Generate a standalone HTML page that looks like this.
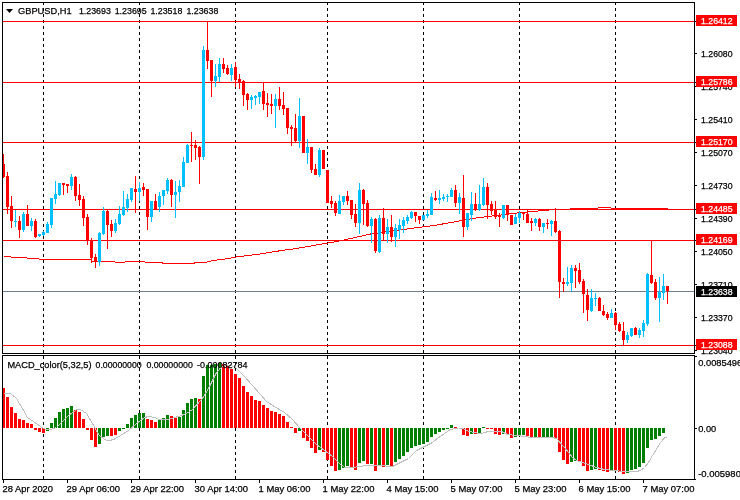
<!DOCTYPE html>
<html lang="en"><head><meta charset="utf-8"><title>GBPUSD,H1</title>
<style>html,body{margin:0;padding:0;background:#fff;overflow:hidden}svg{display:block}text{font-family:"Liberation Sans",sans-serif;font-size:9.7px;fill:#000;stroke:#000;stroke-width:0.25px}.w{fill:#fff;stroke:#fff}</style></head><body>
<svg width="740" height="500" viewBox="0 0 740 500">
<rect width="740" height="500" fill="#fff"/>
<g shape-rendering="crispEdges">
<line x1="43.5" y1="2" x2="43.5" y2="353" stroke="#000" stroke-width="1" stroke-dasharray="3 3"/>
<line x1="43.5" y1="356" x2="43.5" y2="479" stroke="#000" stroke-width="1" stroke-dasharray="3 3"/>
<line x1="139.5" y1="2" x2="139.5" y2="353" stroke="#000" stroke-width="1" stroke-dasharray="3 3"/>
<line x1="139.5" y1="356" x2="139.5" y2="479" stroke="#000" stroke-width="1" stroke-dasharray="3 3"/>
<line x1="235.5" y1="2" x2="235.5" y2="353" stroke="#000" stroke-width="1" stroke-dasharray="3 3"/>
<line x1="235.5" y1="356" x2="235.5" y2="479" stroke="#000" stroke-width="1" stroke-dasharray="3 3"/>
<line x1="327.5" y1="2" x2="327.5" y2="353" stroke="#000" stroke-width="1" stroke-dasharray="3 3"/>
<line x1="327.5" y1="356" x2="327.5" y2="479" stroke="#000" stroke-width="1" stroke-dasharray="3 3"/>
<line x1="423.5" y1="2" x2="423.5" y2="353" stroke="#000" stroke-width="1" stroke-dasharray="3 3"/>
<line x1="423.5" y1="356" x2="423.5" y2="479" stroke="#000" stroke-width="1" stroke-dasharray="3 3"/>
<line x1="519.5" y1="2" x2="519.5" y2="353" stroke="#000" stroke-width="1" stroke-dasharray="3 3"/>
<line x1="519.5" y1="356" x2="519.5" y2="479" stroke="#000" stroke-width="1" stroke-dasharray="3 3"/>
<line x1="615.5" y1="2" x2="615.5" y2="353" stroke="#000" stroke-width="1" stroke-dasharray="3 3"/>
<line x1="615.5" y1="356" x2="615.5" y2="479" stroke="#000" stroke-width="1" stroke-dasharray="3 3"/>
<rect x="3" y="21" width="692" height="1" fill="#ff0000"/>
<rect x="3" y="82" width="692" height="1" fill="#ff0000"/>
<rect x="3" y="142" width="692" height="1" fill="#ff0000"/>
<rect x="3" y="209" width="692" height="1" fill="#ff0000"/>
<rect x="3" y="240" width="692" height="1" fill="#ff0000"/>
<rect x="3" y="345" width="692" height="1" fill="#ff0000"/>
<rect x="3" y="291" width="692" height="1" fill="#708090"/>
</g>
<polyline fill="none" stroke="#ff0000" stroke-width="1" shape-rendering="crispEdges" points="3.5,256.5 10.5,256.5 11.5,257.5 26.5,257.5 27.5,258.5 38.5,258.5 39.5,259.5 68.5,259.5 69.5,259.1 78.5,259.1 79.5,259.5 90.5,259.5 91.5,261.0 114.5,261.5 115.5,262.5 124.5,262.5 125.5,261.9 144.5,261.9 145.5,262.5 162.5,262.9 163.5,263.9 193.5,263.9 194.5,262.9 204.5,262.9 208.5,261.5 216.5,260.1 228.5,258.5 235.5,257.1 248.5,255.5 260.5,253.9 272.5,251.9 284.5,250.1 296.5,248.5 340.5,240.8 370.5,234.0 401.5,229.7 424.5,226.7 436.5,225.1 476.5,217.9 496.5,215.5 516.5,213.1 536.5,211.1 548.5,210.5 549.5,209.5 569.5,209.5 570.5,208.5 597.5,208.5 598.5,207.5 610.5,207.5 611.5,208.5 667.5,208.5"/>
<g shape-rendering="crispEdges">
<rect x="3" y="154" width="1" height="24" fill="#ff0000"/>
<rect x="2" y="164" width="3" height="13" fill="#ff0000"/>
<rect x="7" y="172" width="1" height="42" fill="#ff0000"/>
<rect x="6" y="176" width="3" height="31" fill="#ff0000"/>
<rect x="11" y="196" width="1" height="32" fill="#ff0000"/>
<rect x="10" y="206" width="3" height="15" fill="#ff0000"/>
<rect x="15" y="210" width="1" height="17" fill="#00bfff"/>
<rect x="14" y="221" width="3" height="1" fill="#00bfff"/>
<rect x="19" y="216" width="1" height="22" fill="#ff0000"/>
<rect x="18" y="221" width="3" height="9" fill="#ff0000"/>
<rect x="23" y="212" width="1" height="20" fill="#00bfff"/>
<rect x="22" y="214" width="3" height="16" fill="#00bfff"/>
<rect x="27" y="205" width="1" height="21" fill="#ff0000"/>
<rect x="26" y="214" width="3" height="12" fill="#ff0000"/>
<rect x="31" y="218" width="1" height="13" fill="#00bfff"/>
<rect x="30" y="221" width="3" height="5" fill="#00bfff"/>
<rect x="35" y="219" width="1" height="19" fill="#ff0000"/>
<rect x="34" y="221" width="3" height="16" fill="#ff0000"/>
<rect x="39" y="234" width="1" height="3" fill="#00bfff"/>
<rect x="38" y="234" width="3" height="2" fill="#00bfff"/>
<rect x="43" y="231" width="1" height="5" fill="#00bfff"/>
<rect x="42" y="232" width="3" height="3" fill="#00bfff"/>
<rect x="47" y="222" width="1" height="11" fill="#00bfff"/>
<rect x="46" y="224" width="3" height="9" fill="#00bfff"/>
<rect x="51" y="198" width="1" height="30" fill="#00bfff"/>
<rect x="50" y="198" width="3" height="27" fill="#00bfff"/>
<rect x="55" y="181" width="1" height="23" fill="#00bfff"/>
<rect x="54" y="194" width="3" height="5" fill="#00bfff"/>
<rect x="59" y="183" width="1" height="13" fill="#00bfff"/>
<rect x="58" y="183" width="3" height="12" fill="#00bfff"/>
<rect x="63" y="183" width="1" height="12" fill="#ff0000"/>
<rect x="62" y="183" width="3" height="2" fill="#ff0000"/>
<rect x="67" y="184" width="1" height="9" fill="#ff0000"/>
<rect x="66" y="184" width="3" height="2" fill="#ff0000"/>
<rect x="71" y="174" width="1" height="16" fill="#00bfff"/>
<rect x="70" y="177" width="3" height="9" fill="#00bfff"/>
<rect x="75" y="176" width="1" height="25" fill="#ff0000"/>
<rect x="74" y="177" width="3" height="19" fill="#ff0000"/>
<rect x="79" y="184" width="1" height="22" fill="#ff0000"/>
<rect x="78" y="195" width="3" height="5" fill="#ff0000"/>
<rect x="83" y="196" width="1" height="30" fill="#ff0000"/>
<rect x="82" y="199" width="3" height="19" fill="#ff0000"/>
<rect x="87" y="214" width="1" height="31" fill="#ff0000"/>
<rect x="86" y="217" width="3" height="23" fill="#ff0000"/>
<rect x="91" y="238" width="1" height="25" fill="#ff0000"/>
<rect x="90" y="240" width="3" height="18" fill="#ff0000"/>
<rect x="95" y="254" width="1" height="14" fill="#ff0000"/>
<rect x="94" y="257" width="3" height="5" fill="#ff0000"/>
<rect x="99" y="232" width="1" height="34" fill="#00bfff"/>
<rect x="98" y="233" width="3" height="29" fill="#00bfff"/>
<rect x="103" y="207" width="1" height="28" fill="#00bfff"/>
<rect x="102" y="211" width="3" height="23" fill="#00bfff"/>
<rect x="107" y="210" width="1" height="39" fill="#ff0000"/>
<rect x="106" y="211" width="3" height="14" fill="#ff0000"/>
<rect x="111" y="220" width="1" height="17" fill="#ff0000"/>
<rect x="110" y="224" width="3" height="7" fill="#ff0000"/>
<rect x="115" y="219" width="1" height="14" fill="#00bfff"/>
<rect x="114" y="223" width="3" height="8" fill="#00bfff"/>
<rect x="119" y="206" width="1" height="19" fill="#00bfff"/>
<rect x="118" y="214" width="3" height="10" fill="#00bfff"/>
<rect x="123" y="191" width="1" height="25" fill="#00bfff"/>
<rect x="122" y="207" width="3" height="8" fill="#00bfff"/>
<rect x="127" y="194" width="1" height="18" fill="#00bfff"/>
<rect x="126" y="199" width="3" height="9" fill="#00bfff"/>
<rect x="131" y="188" width="1" height="14" fill="#00bfff"/>
<rect x="130" y="188" width="3" height="12" fill="#00bfff"/>
<rect x="135" y="176" width="1" height="37" fill="#ff0000"/>
<rect x="134" y="189" width="3" height="3" fill="#ff0000"/>
<rect x="139" y="182" width="1" height="19" fill="#00bfff"/>
<rect x="138" y="188" width="3" height="4" fill="#00bfff"/>
<rect x="143" y="183" width="1" height="13" fill="#ff0000"/>
<rect x="142" y="187" width="3" height="3" fill="#ff0000"/>
<rect x="147" y="189" width="1" height="41" fill="#ff0000"/>
<rect x="146" y="189" width="3" height="28" fill="#ff0000"/>
<rect x="151" y="201" width="1" height="21" fill="#00bfff"/>
<rect x="150" y="201" width="3" height="16" fill="#00bfff"/>
<rect x="155" y="194" width="1" height="16" fill="#ff0000"/>
<rect x="154" y="201" width="3" height="9" fill="#ff0000"/>
<rect x="159" y="192" width="1" height="20" fill="#00bfff"/>
<rect x="158" y="196" width="3" height="11" fill="#00bfff"/>
<rect x="163" y="190" width="1" height="15" fill="#00bfff"/>
<rect x="162" y="190" width="3" height="6" fill="#00bfff"/>
<rect x="167" y="178" width="1" height="16" fill="#00bfff"/>
<rect x="166" y="180" width="3" height="11" fill="#00bfff"/>
<rect x="171" y="179" width="1" height="28" fill="#ff0000"/>
<rect x="170" y="180" width="3" height="15" fill="#ff0000"/>
<rect x="175" y="181" width="1" height="37" fill="#00bfff"/>
<rect x="174" y="192" width="3" height="3" fill="#00bfff"/>
<rect x="179" y="180" width="1" height="22" fill="#00bfff"/>
<rect x="178" y="186" width="3" height="6" fill="#00bfff"/>
<rect x="183" y="157" width="1" height="30" fill="#00bfff"/>
<rect x="182" y="162" width="3" height="25" fill="#00bfff"/>
<rect x="187" y="144" width="1" height="19" fill="#00bfff"/>
<rect x="186" y="145" width="3" height="18" fill="#00bfff"/>
<rect x="191" y="132" width="1" height="30" fill="#ff0000"/>
<rect x="190" y="145" width="3" height="1" fill="#ff0000"/>
<rect x="195" y="140" width="1" height="20" fill="#ff0000"/>
<rect x="194" y="145" width="3" height="3" fill="#ff0000"/>
<rect x="199" y="146" width="1" height="38" fill="#ff0000"/>
<rect x="198" y="147" width="3" height="10" fill="#ff0000"/>
<rect x="203" y="46" width="1" height="114" fill="#00bfff"/>
<rect x="202" y="50" width="3" height="107" fill="#00bfff"/>
<rect x="207" y="21" width="1" height="48" fill="#ff0000"/>
<rect x="206" y="50" width="3" height="11" fill="#ff0000"/>
<rect x="211" y="60" width="1" height="37" fill="#ff0000"/>
<rect x="210" y="60" width="3" height="21" fill="#ff0000"/>
<rect x="215" y="64" width="1" height="23" fill="#00bfff"/>
<rect x="214" y="76" width="3" height="5" fill="#00bfff"/>
<rect x="219" y="58" width="1" height="24" fill="#00bfff"/>
<rect x="218" y="64" width="3" height="13" fill="#00bfff"/>
<rect x="223" y="58" width="1" height="15" fill="#ff0000"/>
<rect x="222" y="64" width="3" height="5" fill="#ff0000"/>
<rect x="227" y="65" width="1" height="10" fill="#ff0000"/>
<rect x="226" y="68" width="3" height="6" fill="#ff0000"/>
<rect x="231" y="64" width="1" height="17" fill="#00bfff"/>
<rect x="230" y="68" width="3" height="7" fill="#00bfff"/>
<rect x="235" y="62" width="1" height="25" fill="#ff0000"/>
<rect x="234" y="67" width="3" height="13" fill="#ff0000"/>
<rect x="239" y="74" width="1" height="15" fill="#ff0000"/>
<rect x="238" y="79" width="3" height="3" fill="#ff0000"/>
<rect x="243" y="80" width="1" height="26" fill="#ff0000"/>
<rect x="242" y="81" width="3" height="14" fill="#ff0000"/>
<rect x="247" y="93" width="1" height="17" fill="#ff0000"/>
<rect x="246" y="94" width="3" height="6" fill="#ff0000"/>
<rect x="251" y="95" width="1" height="14" fill="#00bfff"/>
<rect x="250" y="97" width="3" height="3" fill="#00bfff"/>
<rect x="255" y="95" width="1" height="10" fill="#00bfff"/>
<rect x="254" y="96" width="3" height="2" fill="#00bfff"/>
<rect x="259" y="92" width="1" height="12" fill="#00bfff"/>
<rect x="258" y="92" width="3" height="5" fill="#00bfff"/>
<rect x="263" y="83" width="1" height="27" fill="#ff0000"/>
<rect x="262" y="91" width="3" height="13" fill="#ff0000"/>
<rect x="267" y="93" width="1" height="24" fill="#ff0000"/>
<rect x="266" y="103" width="3" height="2" fill="#ff0000"/>
<rect x="271" y="94" width="1" height="20" fill="#ff0000"/>
<rect x="270" y="104" width="3" height="2" fill="#ff0000"/>
<rect x="275" y="94" width="1" height="34" fill="#00bfff"/>
<rect x="274" y="99" width="3" height="7" fill="#00bfff"/>
<rect x="279" y="87" width="1" height="23" fill="#ff0000"/>
<rect x="278" y="99" width="3" height="7" fill="#ff0000"/>
<rect x="283" y="92" width="1" height="23" fill="#ff0000"/>
<rect x="282" y="105" width="3" height="4" fill="#ff0000"/>
<rect x="287" y="108" width="1" height="26" fill="#ff0000"/>
<rect x="286" y="108" width="3" height="20" fill="#ff0000"/>
<rect x="291" y="125" width="1" height="21" fill="#ff0000"/>
<rect x="290" y="127" width="3" height="2" fill="#ff0000"/>
<rect x="295" y="114" width="1" height="29" fill="#ff0000"/>
<rect x="294" y="128" width="3" height="13" fill="#ff0000"/>
<rect x="299" y="98" width="1" height="50" fill="#00bfff"/>
<rect x="298" y="116" width="3" height="25" fill="#00bfff"/>
<rect x="303" y="116" width="1" height="37" fill="#ff0000"/>
<rect x="302" y="116" width="3" height="37" fill="#ff0000"/>
<rect x="307" y="139" width="1" height="25" fill="#00bfff"/>
<rect x="306" y="147" width="3" height="6" fill="#00bfff"/>
<rect x="311" y="147" width="1" height="26" fill="#ff0000"/>
<rect x="310" y="147" width="3" height="23" fill="#ff0000"/>
<rect x="315" y="164" width="1" height="11" fill="#ff0000"/>
<rect x="314" y="169" width="3" height="6" fill="#ff0000"/>
<rect x="319" y="148" width="1" height="29" fill="#00bfff"/>
<rect x="318" y="150" width="3" height="25" fill="#00bfff"/>
<rect x="323" y="150" width="1" height="19" fill="#ff0000"/>
<rect x="322" y="150" width="3" height="19" fill="#ff0000"/>
<rect x="327" y="170" width="1" height="33" fill="#ff0000"/>
<rect x="326" y="170" width="3" height="33" fill="#ff0000"/>
<rect x="331" y="196" width="1" height="12" fill="#ff0000"/>
<rect x="330" y="201" width="3" height="3" fill="#ff0000"/>
<rect x="335" y="201" width="1" height="15" fill="#ff0000"/>
<rect x="334" y="203" width="3" height="10" fill="#ff0000"/>
<rect x="339" y="195" width="1" height="19" fill="#00bfff"/>
<rect x="338" y="201" width="3" height="13" fill="#00bfff"/>
<rect x="343" y="196" width="1" height="9" fill="#00bfff"/>
<rect x="342" y="196" width="3" height="6" fill="#00bfff"/>
<rect x="347" y="191" width="1" height="14" fill="#ff0000"/>
<rect x="346" y="196" width="3" height="5" fill="#ff0000"/>
<rect x="351" y="200" width="1" height="19" fill="#ff0000"/>
<rect x="350" y="200" width="3" height="15" fill="#ff0000"/>
<rect x="355" y="204" width="1" height="23" fill="#ff0000"/>
<rect x="354" y="214" width="3" height="9" fill="#ff0000"/>
<rect x="359" y="183" width="1" height="51" fill="#00bfff"/>
<rect x="358" y="190" width="3" height="33" fill="#00bfff"/>
<rect x="363" y="189" width="1" height="36" fill="#ff0000"/>
<rect x="362" y="190" width="3" height="14" fill="#ff0000"/>
<rect x="367" y="200" width="1" height="27" fill="#ff0000"/>
<rect x="366" y="203" width="3" height="23" fill="#ff0000"/>
<rect x="371" y="217" width="1" height="26" fill="#00bfff"/>
<rect x="370" y="219" width="3" height="7" fill="#00bfff"/>
<rect x="375" y="218" width="1" height="35" fill="#ff0000"/>
<rect x="374" y="219" width="3" height="32" fill="#ff0000"/>
<rect x="379" y="215" width="1" height="38" fill="#00bfff"/>
<rect x="378" y="218" width="3" height="34" fill="#00bfff"/>
<rect x="383" y="208" width="1" height="32" fill="#ff0000"/>
<rect x="382" y="218" width="3" height="16" fill="#ff0000"/>
<rect x="387" y="219" width="1" height="24" fill="#00bfff"/>
<rect x="386" y="227" width="3" height="7" fill="#00bfff"/>
<rect x="391" y="215" width="1" height="27" fill="#ff0000"/>
<rect x="390" y="227" width="3" height="10" fill="#ff0000"/>
<rect x="395" y="224" width="1" height="23" fill="#00bfff"/>
<rect x="394" y="228" width="3" height="9" fill="#00bfff"/>
<rect x="399" y="219" width="1" height="20" fill="#00bfff"/>
<rect x="398" y="225" width="3" height="5" fill="#00bfff"/>
<rect x="403" y="217" width="1" height="16" fill="#00bfff"/>
<rect x="402" y="220" width="3" height="6" fill="#00bfff"/>
<rect x="407" y="215" width="1" height="9" fill="#00bfff"/>
<rect x="406" y="217" width="3" height="4" fill="#00bfff"/>
<rect x="411" y="211" width="1" height="8" fill="#00bfff"/>
<rect x="410" y="212" width="3" height="6" fill="#00bfff"/>
<rect x="415" y="212" width="1" height="10" fill="#ff0000"/>
<rect x="414" y="212" width="3" height="4" fill="#ff0000"/>
<rect x="419" y="216" width="1" height="8" fill="#ff0000"/>
<rect x="418" y="216" width="3" height="4" fill="#ff0000"/>
<rect x="423" y="215" width="1" height="5" fill="#00bfff"/>
<rect x="422" y="215" width="3" height="5" fill="#00bfff"/>
<rect x="427" y="210" width="1" height="8" fill="#00bfff"/>
<rect x="426" y="214" width="3" height="2" fill="#00bfff"/>
<rect x="431" y="193" width="1" height="22" fill="#00bfff"/>
<rect x="430" y="197" width="3" height="18" fill="#00bfff"/>
<rect x="435" y="191" width="1" height="10" fill="#ff0000"/>
<rect x="434" y="198" width="3" height="2" fill="#ff0000"/>
<rect x="439" y="190" width="1" height="14" fill="#00bfff"/>
<rect x="438" y="198" width="3" height="2" fill="#00bfff"/>
<rect x="443" y="194" width="1" height="7" fill="#00bfff"/>
<rect x="442" y="197" width="3" height="2" fill="#00bfff"/>
<rect x="447" y="194" width="1" height="8" fill="#00bfff"/>
<rect x="446" y="196" width="3" height="1" fill="#00bfff"/>
<rect x="451" y="188" width="1" height="9" fill="#00bfff"/>
<rect x="450" y="190" width="3" height="7" fill="#00bfff"/>
<rect x="455" y="185" width="1" height="22" fill="#ff0000"/>
<rect x="454" y="190" width="3" height="13" fill="#ff0000"/>
<rect x="459" y="193" width="1" height="21" fill="#00bfff"/>
<rect x="458" y="197" width="3" height="6" fill="#00bfff"/>
<rect x="463" y="175" width="1" height="62" fill="#ff0000"/>
<rect x="462" y="198" width="3" height="29" fill="#ff0000"/>
<rect x="467" y="213" width="1" height="17" fill="#00bfff"/>
<rect x="466" y="213" width="3" height="14" fill="#00bfff"/>
<rect x="471" y="192" width="1" height="29" fill="#00bfff"/>
<rect x="470" y="204" width="3" height="11" fill="#00bfff"/>
<rect x="475" y="193" width="1" height="18" fill="#ff0000"/>
<rect x="474" y="204" width="3" height="5" fill="#ff0000"/>
<rect x="479" y="185" width="1" height="26" fill="#00bfff"/>
<rect x="478" y="204" width="3" height="6" fill="#00bfff"/>
<rect x="483" y="178" width="1" height="28" fill="#00bfff"/>
<rect x="482" y="187" width="3" height="18" fill="#00bfff"/>
<rect x="487" y="183" width="1" height="36" fill="#ff0000"/>
<rect x="486" y="187" width="3" height="18" fill="#ff0000"/>
<rect x="491" y="201" width="1" height="14" fill="#ff0000"/>
<rect x="490" y="204" width="3" height="7" fill="#ff0000"/>
<rect x="495" y="201" width="1" height="18" fill="#ff0000"/>
<rect x="494" y="209" width="3" height="8" fill="#ff0000"/>
<rect x="499" y="213" width="1" height="14" fill="#ff0000"/>
<rect x="498" y="215" width="3" height="2" fill="#ff0000"/>
<rect x="503" y="205" width="1" height="14" fill="#00bfff"/>
<rect x="502" y="205" width="3" height="13" fill="#00bfff"/>
<rect x="507" y="205" width="1" height="16" fill="#ff0000"/>
<rect x="506" y="205" width="3" height="10" fill="#ff0000"/>
<rect x="511" y="215" width="1" height="10" fill="#ff0000"/>
<rect x="510" y="215" width="3" height="10" fill="#ff0000"/>
<rect x="515" y="214" width="1" height="10" fill="#00bfff"/>
<rect x="514" y="217" width="3" height="7" fill="#00bfff"/>
<rect x="519" y="211" width="1" height="12" fill="#00bfff"/>
<rect x="518" y="213" width="3" height="5" fill="#00bfff"/>
<rect x="523" y="212" width="1" height="8" fill="#ff0000"/>
<rect x="522" y="213" width="3" height="1" fill="#ff0000"/>
<rect x="527" y="209" width="1" height="14" fill="#ff0000"/>
<rect x="526" y="214" width="3" height="9" fill="#ff0000"/>
<rect x="531" y="218" width="1" height="13" fill="#ff0000"/>
<rect x="530" y="221" width="3" height="2" fill="#ff0000"/>
<rect x="535" y="218" width="1" height="8" fill="#00bfff"/>
<rect x="534" y="219" width="3" height="4" fill="#00bfff"/>
<rect x="539" y="218" width="1" height="13" fill="#ff0000"/>
<rect x="538" y="219" width="3" height="8" fill="#ff0000"/>
<rect x="543" y="223" width="1" height="10" fill="#00bfff"/>
<rect x="542" y="223" width="3" height="4" fill="#00bfff"/>
<rect x="547" y="219" width="1" height="10" fill="#ff0000"/>
<rect x="546" y="223" width="3" height="1" fill="#ff0000"/>
<rect x="551" y="220" width="1" height="16" fill="#00bfff"/>
<rect x="550" y="221" width="3" height="3" fill="#00bfff"/>
<rect x="555" y="208" width="1" height="25" fill="#ff0000"/>
<rect x="554" y="221" width="3" height="11" fill="#ff0000"/>
<rect x="559" y="230" width="1" height="68" fill="#ff0000"/>
<rect x="558" y="231" width="3" height="51" fill="#ff0000"/>
<rect x="563" y="278" width="1" height="14" fill="#ff0000"/>
<rect x="562" y="282" width="3" height="2" fill="#ff0000"/>
<rect x="567" y="267" width="1" height="19" fill="#00bfff"/>
<rect x="566" y="282" width="3" height="2" fill="#00bfff"/>
<rect x="571" y="265" width="1" height="27" fill="#00bfff"/>
<rect x="570" y="268" width="3" height="15" fill="#00bfff"/>
<rect x="575" y="265" width="1" height="23" fill="#ff0000"/>
<rect x="574" y="268" width="3" height="3" fill="#ff0000"/>
<rect x="579" y="263" width="1" height="21" fill="#ff0000"/>
<rect x="578" y="270" width="3" height="12" fill="#ff0000"/>
<rect x="583" y="279" width="1" height="34" fill="#ff0000"/>
<rect x="582" y="281" width="3" height="13" fill="#ff0000"/>
<rect x="587" y="289" width="1" height="32" fill="#ff0000"/>
<rect x="586" y="295" width="3" height="15" fill="#ff0000"/>
<rect x="591" y="289" width="1" height="23" fill="#00bfff"/>
<rect x="590" y="298" width="3" height="13" fill="#00bfff"/>
<rect x="595" y="293" width="1" height="13" fill="#00bfff"/>
<rect x="594" y="298" width="3" height="1" fill="#00bfff"/>
<rect x="599" y="297" width="1" height="14" fill="#ff0000"/>
<rect x="598" y="298" width="3" height="13" fill="#ff0000"/>
<rect x="603" y="305" width="1" height="11" fill="#ff0000"/>
<rect x="602" y="311" width="3" height="4" fill="#ff0000"/>
<rect x="607" y="312" width="1" height="8" fill="#ff0000"/>
<rect x="606" y="314" width="3" height="4" fill="#ff0000"/>
<rect x="611" y="309" width="1" height="9" fill="#00bfff"/>
<rect x="610" y="313" width="3" height="5" fill="#00bfff"/>
<rect x="615" y="312" width="1" height="18" fill="#ff0000"/>
<rect x="614" y="313" width="3" height="12" fill="#ff0000"/>
<rect x="619" y="322" width="1" height="10" fill="#ff0000"/>
<rect x="618" y="324" width="3" height="7" fill="#ff0000"/>
<rect x="623" y="322" width="1" height="23" fill="#ff0000"/>
<rect x="622" y="331" width="3" height="9" fill="#ff0000"/>
<rect x="627" y="332" width="1" height="11" fill="#00bfff"/>
<rect x="626" y="335" width="3" height="5" fill="#00bfff"/>
<rect x="631" y="328" width="1" height="9" fill="#00bfff"/>
<rect x="630" y="328" width="3" height="8" fill="#00bfff"/>
<rect x="635" y="327" width="1" height="8" fill="#ff0000"/>
<rect x="634" y="328" width="3" height="7" fill="#ff0000"/>
<rect x="639" y="328" width="1" height="10" fill="#00bfff"/>
<rect x="638" y="330" width="3" height="5" fill="#00bfff"/>
<rect x="643" y="320" width="1" height="17" fill="#00bfff"/>
<rect x="642" y="323" width="3" height="8" fill="#00bfff"/>
<rect x="647" y="273" width="1" height="53" fill="#00bfff"/>
<rect x="646" y="274" width="3" height="50" fill="#00bfff"/>
<rect x="651" y="240" width="1" height="44" fill="#ff0000"/>
<rect x="650" y="275" width="3" height="8" fill="#ff0000"/>
<rect x="655" y="279" width="1" height="21" fill="#ff0000"/>
<rect x="654" y="282" width="3" height="16" fill="#ff0000"/>
<rect x="659" y="277" width="1" height="45" fill="#00bfff"/>
<rect x="658" y="292" width="3" height="6" fill="#00bfff"/>
<rect x="663" y="274" width="1" height="26" fill="#00bfff"/>
<rect x="662" y="286" width="3" height="7" fill="#00bfff"/>
<rect x="667" y="286" width="1" height="18" fill="#ff0000"/>
<rect x="666" y="286" width="3" height="5" fill="#ff0000"/>
<rect x="2" y="388" width="3" height="40" fill="#ff0000"/>
<rect x="6" y="397" width="3" height="31" fill="#ff0000"/>
<rect x="10" y="407" width="3" height="21" fill="#ff0000"/>
<rect x="14" y="413" width="3" height="15" fill="#ff0000"/>
<rect x="18" y="419" width="3" height="9" fill="#ff0000"/>
<rect x="22" y="420" width="3" height="8" fill="#ff0000"/>
<rect x="26" y="423" width="3" height="5" fill="#ff0000"/>
<rect x="30" y="424" width="3" height="4" fill="#ff0000"/>
<rect x="34" y="428" width="3" height="2" fill="#ff0000"/>
<rect x="38" y="428" width="3" height="4" fill="#ff0000"/>
<rect x="42" y="428" width="3" height="5" fill="#ff0000"/>
<rect x="46" y="428" width="3" height="3" fill="#008000"/>
<rect x="50" y="423" width="3" height="5" fill="#008000"/>
<rect x="54" y="418" width="3" height="10" fill="#008000"/>
<rect x="58" y="412" width="3" height="16" fill="#008000"/>
<rect x="62" y="409" width="3" height="19" fill="#008000"/>
<rect x="66" y="408" width="3" height="20" fill="#008000"/>
<rect x="70" y="406" width="3" height="22" fill="#008000"/>
<rect x="74" y="410" width="3" height="18" fill="#ff0000"/>
<rect x="78" y="412" width="3" height="16" fill="#ff0000"/>
<rect x="82" y="419" width="3" height="9" fill="#ff0000"/>
<rect x="86" y="428" width="3" height="2" fill="#ff0000"/>
<rect x="90" y="428" width="3" height="12" fill="#ff0000"/>
<rect x="94" y="428" width="3" height="19" fill="#ff0000"/>
<rect x="98" y="428" width="3" height="16" fill="#008000"/>
<rect x="102" y="428" width="3" height="9" fill="#008000"/>
<rect x="106" y="428" width="3" height="8" fill="#008000"/>
<rect x="110" y="428" width="3" height="8" fill="#ff0000"/>
<rect x="114" y="428" width="3" height="7" fill="#ff0000"/>
<rect x="118" y="428" width="3" height="3" fill="#008000"/>
<rect x="122" y="428" width="3" height="1" fill="#008000"/>
<rect x="126" y="424" width="3" height="4" fill="#008000"/>
<rect x="130" y="418" width="3" height="10" fill="#008000"/>
<rect x="134" y="415" width="3" height="13" fill="#008000"/>
<rect x="138" y="413" width="3" height="15" fill="#008000"/>
<rect x="142" y="413" width="3" height="15" fill="#008000"/>
<rect x="146" y="419" width="3" height="9" fill="#ff0000"/>
<rect x="150" y="420" width="3" height="8" fill="#ff0000"/>
<rect x="154" y="422" width="3" height="6" fill="#ff0000"/>
<rect x="158" y="420" width="3" height="8" fill="#008000"/>
<rect x="162" y="418" width="3" height="10" fill="#008000"/>
<rect x="166" y="415" width="3" height="13" fill="#008000"/>
<rect x="170" y="416" width="3" height="12" fill="#ff0000"/>
<rect x="174" y="418" width="3" height="10" fill="#ff0000"/>
<rect x="178" y="417" width="3" height="11" fill="#008000"/>
<rect x="182" y="410" width="3" height="18" fill="#008000"/>
<rect x="186" y="403" width="3" height="25" fill="#008000"/>
<rect x="190" y="399" width="3" height="29" fill="#008000"/>
<rect x="194" y="398" width="3" height="30" fill="#008000"/>
<rect x="198" y="399" width="3" height="29" fill="#ff0000"/>
<rect x="202" y="376" width="3" height="52" fill="#008000"/>
<rect x="206" y="365" width="3" height="63" fill="#008000"/>
<rect x="210" y="365" width="3" height="63" fill="#008000"/>
<rect x="214" y="364" width="3" height="64" fill="#008000"/>
<rect x="218" y="363" width="3" height="65" fill="#008000"/>
<rect x="222" y="364" width="3" height="64" fill="#ff0000"/>
<rect x="226" y="366" width="3" height="62" fill="#ff0000"/>
<rect x="230" y="369" width="3" height="59" fill="#ff0000"/>
<rect x="234" y="374" width="3" height="54" fill="#ff0000"/>
<rect x="238" y="378" width="3" height="50" fill="#ff0000"/>
<rect x="242" y="386" width="3" height="42" fill="#ff0000"/>
<rect x="246" y="392" width="3" height="36" fill="#ff0000"/>
<rect x="250" y="396" width="3" height="32" fill="#ff0000"/>
<rect x="254" y="400" width="3" height="28" fill="#ff0000"/>
<rect x="258" y="401" width="3" height="27" fill="#ff0000"/>
<rect x="262" y="405" width="3" height="23" fill="#ff0000"/>
<rect x="266" y="408" width="3" height="20" fill="#ff0000"/>
<rect x="270" y="411" width="3" height="17" fill="#ff0000"/>
<rect x="274" y="412" width="3" height="16" fill="#ff0000"/>
<rect x="278" y="414" width="3" height="14" fill="#ff0000"/>
<rect x="282" y="416" width="3" height="12" fill="#ff0000"/>
<rect x="286" y="422" width="3" height="6" fill="#ff0000"/>
<rect x="290" y="427" width="3" height="1" fill="#ff0000"/>
<rect x="294" y="428" width="3" height="5" fill="#ff0000"/>
<rect x="298" y="428" width="3" height="3" fill="#008000"/>
<rect x="302" y="428" width="3" height="10" fill="#ff0000"/>
<rect x="306" y="428" width="3" height="13" fill="#ff0000"/>
<rect x="310" y="428" width="3" height="20" fill="#ff0000"/>
<rect x="314" y="428" width="3" height="25" fill="#ff0000"/>
<rect x="318" y="428" width="3" height="22" fill="#008000"/>
<rect x="322" y="428" width="3" height="24" fill="#ff0000"/>
<rect x="326" y="428" width="3" height="32" fill="#ff0000"/>
<rect x="330" y="428" width="3" height="38" fill="#ff0000"/>
<rect x="334" y="428" width="3" height="43" fill="#ff0000"/>
<rect x="338" y="428" width="3" height="42" fill="#008000"/>
<rect x="342" y="428" width="3" height="40" fill="#008000"/>
<rect x="346" y="428" width="3" height="38" fill="#008000"/>
<rect x="350" y="428" width="3" height="39" fill="#ff0000"/>
<rect x="354" y="428" width="3" height="42" fill="#ff0000"/>
<rect x="358" y="428" width="3" height="35" fill="#008000"/>
<rect x="362" y="428" width="3" height="33" fill="#008000"/>
<rect x="366" y="428" width="3" height="36" fill="#ff0000"/>
<rect x="370" y="428" width="3" height="36" fill="#008000"/>
<rect x="374" y="428" width="3" height="43" fill="#ff0000"/>
<rect x="378" y="428" width="3" height="38" fill="#008000"/>
<rect x="382" y="428" width="3" height="39" fill="#ff0000"/>
<rect x="386" y="428" width="3" height="37" fill="#008000"/>
<rect x="390" y="428" width="3" height="38" fill="#ff0000"/>
<rect x="394" y="428" width="3" height="34" fill="#008000"/>
<rect x="398" y="428" width="3" height="31" fill="#008000"/>
<rect x="402" y="428" width="3" height="28" fill="#008000"/>
<rect x="406" y="428" width="3" height="24" fill="#008000"/>
<rect x="410" y="428" width="3" height="20" fill="#008000"/>
<rect x="414" y="428" width="3" height="18" fill="#008000"/>
<rect x="418" y="428" width="3" height="17" fill="#008000"/>
<rect x="422" y="428" width="3" height="16" fill="#008000"/>
<rect x="426" y="428" width="3" height="14" fill="#008000"/>
<rect x="430" y="428" width="3" height="9" fill="#008000"/>
<rect x="434" y="428" width="3" height="6" fill="#008000"/>
<rect x="438" y="428" width="3" height="4" fill="#008000"/>
<rect x="442" y="428" width="3" height="2" fill="#008000"/>
<rect x="446" y="428" width="3" height="1" fill="#008000"/>
<rect x="450" y="425" width="3" height="3" fill="#008000"/>
<rect x="454" y="427" width="3" height="1" fill="#ff0000"/>
<rect x="462" y="428" width="3" height="7" fill="#ff0000"/>
<rect x="466" y="428" width="3" height="8" fill="#ff0000"/>
<rect x="470" y="428" width="3" height="6" fill="#008000"/>
<rect x="474" y="428" width="3" height="6" fill="#ff0000"/>
<rect x="478" y="428" width="3" height="5" fill="#008000"/>
<rect x="482" y="427" width="3" height="1" fill="#008000"/>
<rect x="486" y="428" width="3" height="1" fill="#ff0000"/>
<rect x="490" y="428" width="3" height="1" fill="#ff0000"/>
<rect x="494" y="428" width="3" height="6" fill="#ff0000"/>
<rect x="498" y="428" width="3" height="7" fill="#ff0000"/>
<rect x="502" y="428" width="3" height="6" fill="#008000"/>
<rect x="506" y="428" width="3" height="7" fill="#ff0000"/>
<rect x="510" y="428" width="3" height="10" fill="#ff0000"/>
<rect x="514" y="428" width="3" height="9" fill="#008000"/>
<rect x="518" y="428" width="3" height="8" fill="#008000"/>
<rect x="522" y="428" width="3" height="7" fill="#008000"/>
<rect x="526" y="428" width="3" height="8" fill="#ff0000"/>
<rect x="530" y="428" width="3" height="10" fill="#ff0000"/>
<rect x="534" y="428" width="3" height="9" fill="#008000"/>
<rect x="538" y="428" width="3" height="10" fill="#ff0000"/>
<rect x="542" y="428" width="3" height="9" fill="#008000"/>
<rect x="546" y="428" width="3" height="9" fill="#008000"/>
<rect x="550" y="428" width="3" height="9" fill="#008000"/>
<rect x="554" y="428" width="3" height="11" fill="#ff0000"/>
<rect x="558" y="428" width="3" height="24" fill="#ff0000"/>
<rect x="562" y="428" width="3" height="32" fill="#ff0000"/>
<rect x="566" y="428" width="3" height="36" fill="#ff0000"/>
<rect x="570" y="428" width="3" height="34" fill="#008000"/>
<rect x="574" y="428" width="3" height="33" fill="#008000"/>
<rect x="578" y="428" width="3" height="33" fill="#ff0000"/>
<rect x="582" y="428" width="3" height="38" fill="#ff0000"/>
<rect x="586" y="428" width="3" height="43" fill="#ff0000"/>
<rect x="590" y="428" width="3" height="42" fill="#008000"/>
<rect x="594" y="428" width="3" height="41" fill="#008000"/>
<rect x="598" y="428" width="3" height="42" fill="#ff0000"/>
<rect x="602" y="428" width="3" height="43" fill="#ff0000"/>
<rect x="606" y="428" width="3" height="44" fill="#ff0000"/>
<rect x="610" y="428" width="3" height="42" fill="#008000"/>
<rect x="614" y="428" width="3" height="43" fill="#ff0000"/>
<rect x="618" y="428" width="3" height="44" fill="#ff0000"/>
<rect x="622" y="428" width="3" height="46" fill="#ff0000"/>
<rect x="626" y="428" width="3" height="45" fill="#008000"/>
<rect x="630" y="428" width="3" height="42" fill="#008000"/>
<rect x="634" y="428" width="3" height="41" fill="#008000"/>
<rect x="638" y="428" width="3" height="39" fill="#008000"/>
<rect x="642" y="428" width="3" height="35" fill="#008000"/>
<rect x="646" y="428" width="3" height="20" fill="#008000"/>
<rect x="650" y="428" width="3" height="12" fill="#008000"/>
<rect x="654" y="428" width="3" height="11" fill="#008000"/>
<rect x="658" y="428" width="3" height="8" fill="#008000"/>
<rect x="662" y="428" width="3" height="5" fill="#008000"/>
</g>
<polyline fill="none" stroke="#c0c0c0" stroke-width="1" shape-rendering="crispEdges" points="3.5,393.5 10.5,393.5 16.5,398.5 22.5,408.5 27.5,417.5 33.5,421.5 40.5,426.5 44.5,429.0 50.5,429.5 56.5,427.5 60.5,423.5 68.5,415.5 76.5,409.9 80.5,409.5 86.5,413.5 92.5,423.5 98.5,434.5 104.5,439.5 108.5,440.9 114.5,439.1 120.5,435.5 128.5,430.5 136.5,423.5 144.5,417.5 148.5,416.5 154.5,417.5 160.5,419.9 168.5,419.1 178.5,416.5 186.5,413.5 192.5,409.5 196.5,405.0 202.5,398.5 209.5,386.5 216.5,372.5 221.5,367.0 226.5,365.0 231.5,365.5 236.5,368.5 244.5,376.5 252.5,385.5 260.5,394.5 266.5,401.5 270.5,404.0 276.5,407.9 284.5,412.5 292.5,419.5 300.5,428.5 308.5,436.5 316.5,444.5 324.5,450.5 332.5,456.5 340.5,464.5 344.5,467.1 352.5,467.5 360.5,466.5 368.5,465.1 376.5,465.1 384.5,465.9 392.5,466.5 400.5,462.5 408.5,458.5 416.5,450.5 424.5,446.5 432.5,442.5 436.5,439.0 442.5,435.0 449.5,430.0 454.5,428.5 458.5,428.0 462.5,428.0 466.5,430.5 469.5,431.5 476.5,433.0 482.5,433.3 486.5,432.0 490.5,431.0 496.5,431.0 502.5,432.0 506.5,434.0 510.5,434.0 513.5,435.9 520.5,435.9 528.5,437.1 536.5,437.5 552.5,437.5 556.5,438.5 564.5,447.5 572.5,457.5 576.5,460.5 580.5,461.9 588.5,464.5 596.5,467.5 604.5,469.5 612.5,470.5 620.5,471.1 628.5,471.9 636.5,471.5 640.5,470.5 644.5,467.5 648.5,462.5 652.5,455.5 656.5,449.1 660.5,442.5 664.5,437.9 667.5,436.9"/>
<g shape-rendering="crispEdges">
<rect x="2" y="2" width="693" height="1" fill="#000"/>
<rect x="2" y="2" width="1" height="352" fill="#000"/>
<rect x="694" y="2" width="1" height="352" fill="#000"/>
<rect x="2" y="353" width="693" height="1" fill="#000"/>
<rect x="2" y="355" width="693" height="1" fill="#000"/>
<rect x="2" y="355" width="1" height="125" fill="#000"/>
<rect x="694" y="355" width="1" height="125" fill="#000"/>
<rect x="2" y="479" width="693" height="1" fill="#000"/>
<rect x="695" y="53" width="2" height="1" fill="#000"/>
<rect x="695" y="86" width="2" height="1" fill="#000"/>
<rect x="695" y="119" width="2" height="1" fill="#000"/>
<rect x="695" y="152" width="2" height="1" fill="#000"/>
<rect x="695" y="185" width="2" height="1" fill="#000"/>
<rect x="695" y="218" width="2" height="1" fill="#000"/>
<rect x="695" y="251" width="2" height="1" fill="#000"/>
<rect x="695" y="284" width="2" height="1" fill="#000"/>
<rect x="695" y="317" width="2" height="1" fill="#000"/>
<rect x="695" y="350" width="2" height="1" fill="#000"/>
<rect x="695" y="21" width="2" height="1" fill="#000"/>
<rect x="695" y="82" width="2" height="1" fill="#000"/>
<rect x="695" y="142" width="2" height="1" fill="#000"/>
<rect x="695" y="209" width="2" height="1" fill="#000"/>
<rect x="695" y="240" width="2" height="1" fill="#000"/>
<rect x="695" y="345" width="2" height="1" fill="#000"/>
<rect x="695" y="356" width="2" height="1" fill="#000"/>
<rect x="695" y="428" width="2" height="1" fill="#000"/>
<rect x="695" y="479" width="1" height="1" fill="#000"/>
<rect x="3" y="480" width="1" height="3" fill="#000"/>
<rect x="67" y="480" width="1" height="3" fill="#000"/>
<rect x="131" y="480" width="1" height="3" fill="#000"/>
<rect x="195" y="480" width="1" height="3" fill="#000"/>
<rect x="259" y="480" width="1" height="3" fill="#000"/>
<rect x="323" y="480" width="1" height="3" fill="#000"/>
<rect x="387" y="480" width="1" height="3" fill="#000"/>
<rect x="451" y="480" width="1" height="3" fill="#000"/>
<rect x="515" y="480" width="1" height="3" fill="#000"/>
<rect x="579" y="480" width="1" height="3" fill="#000"/>
<rect x="643" y="480" width="1" height="3" fill="#000"/>
</g>
<text x="701" y="57" textLength="31.6" lengthAdjust="spacingAndGlyphs">1.26080</text>
<text x="701" y="90" textLength="31.6" lengthAdjust="spacingAndGlyphs">1.25740</text>
<text x="701" y="123" textLength="31.6" lengthAdjust="spacingAndGlyphs">1.25410</text>
<text x="701" y="156" textLength="31.6" lengthAdjust="spacingAndGlyphs">1.25070</text>
<text x="701" y="189" textLength="31.6" lengthAdjust="spacingAndGlyphs">1.24730</text>
<text x="701" y="222" textLength="31.6" lengthAdjust="spacingAndGlyphs">1.24390</text>
<text x="701" y="255" textLength="31.6" lengthAdjust="spacingAndGlyphs">1.24050</text>
<text x="701" y="288" textLength="31.6" lengthAdjust="spacingAndGlyphs">1.23710</text>
<text x="701" y="321" textLength="31.6" lengthAdjust="spacingAndGlyphs">1.23370</text>
<text x="701" y="354" textLength="31.6" lengthAdjust="spacingAndGlyphs">1.23040</text>
<text x="698.2" y="366" textLength="44" lengthAdjust="spacingAndGlyphs">0.0085496</text>
<text x="698.2" y="432" textLength="18" lengthAdjust="spacingAndGlyphs">0.00</text>
<text x="698.2" y="477" textLength="48" lengthAdjust="spacingAndGlyphs">-0.0059809</text>
<g shape-rendering="crispEdges">
<rect x="696" y="15" width="41" height="11" fill="#ff0000"/>
<rect x="696" y="76" width="41" height="11" fill="#ff0000"/>
<rect x="696" y="136" width="41" height="11" fill="#ff0000"/>
<rect x="696" y="203" width="41" height="11" fill="#ff0000"/>
<rect x="696" y="234" width="41" height="11" fill="#ff0000"/>
<rect x="696" y="339" width="41" height="11" fill="#ff0000"/>
<rect x="696" y="286" width="41" height="11" fill="#000"/>
</g>
<text x="701" y="24" textLength="31.6" lengthAdjust="spacingAndGlyphs" class="w">1.26412</text>
<text x="701" y="85" textLength="31.6" lengthAdjust="spacingAndGlyphs" class="w">1.25786</text>
<text x="701" y="145" textLength="31.6" lengthAdjust="spacingAndGlyphs" class="w">1.25170</text>
<text x="701" y="212" textLength="31.6" lengthAdjust="spacingAndGlyphs" class="w">1.24485</text>
<text x="701" y="243" textLength="31.6" lengthAdjust="spacingAndGlyphs" class="w">1.24169</text>
<text x="701" y="348" textLength="31.6" lengthAdjust="spacingAndGlyphs" class="w">1.23088</text>
<text x="701" y="295" textLength="31.6" lengthAdjust="spacingAndGlyphs" class="w">1.23638</text>
<path d="M6 9h7l-3.5 4z" fill="#000"/>
<text x="18" y="14.3" textLength="53.6" lengthAdjust="spacingAndGlyphs">GBPUSD,H1</text>
<text x="78.9" y="14.3" textLength="32" lengthAdjust="spacingAndGlyphs">1.23693</text>
<text x="114.7" y="14.3" textLength="32" lengthAdjust="spacingAndGlyphs">1.23695</text>
<text x="150.4" y="14.3" textLength="32" lengthAdjust="spacingAndGlyphs">1.23518</text>
<text x="186.4" y="14.3" textLength="32" lengthAdjust="spacingAndGlyphs">1.23638</text>
<text x="7.4" y="368" textLength="84.2" lengthAdjust="spacingAndGlyphs">MACD_color(5,32,5)</text>
<text x="95.6" y="368" textLength="46" lengthAdjust="spacingAndGlyphs">0.00000000</text>
<text x="146.4" y="368" textLength="46.4" lengthAdjust="spacingAndGlyphs">0.00000000</text>
<text x="197" y="368" textLength="50.4" lengthAdjust="spacingAndGlyphs">-0.00082784</text>
<text x="2.6" y="492.3" textLength="50.4" lengthAdjust="spacingAndGlyphs">28 Apr 2020</text>
<text x="66.6" y="492.3" textLength="53.4" lengthAdjust="spacingAndGlyphs">29 Apr 06:00</text>
<text x="130.6" y="492.3" textLength="53.4" lengthAdjust="spacingAndGlyphs">29 Apr 22:00</text>
<text x="194.6" y="492.3" textLength="53.4" lengthAdjust="spacingAndGlyphs">30 Apr 14:00</text>
<text x="258.6" y="492.3" textLength="51.8" lengthAdjust="spacingAndGlyphs">1 May 06:00</text>
<text x="322.6" y="492.3" textLength="51.8" lengthAdjust="spacingAndGlyphs">1 May 22:00</text>
<text x="386.6" y="492.3" textLength="51.8" lengthAdjust="spacingAndGlyphs">4 May 15:00</text>
<text x="450.6" y="492.3" textLength="51.8" lengthAdjust="spacingAndGlyphs">5 May 07:00</text>
<text x="514.6" y="492.3" textLength="51.8" lengthAdjust="spacingAndGlyphs">5 May 23:00</text>
<text x="578.6" y="492.3" textLength="51.8" lengthAdjust="spacingAndGlyphs">6 May 15:00</text>
<text x="642.6" y="492.3" textLength="51.8" lengthAdjust="spacingAndGlyphs">7 May 07:00</text>
</svg></body></html>
